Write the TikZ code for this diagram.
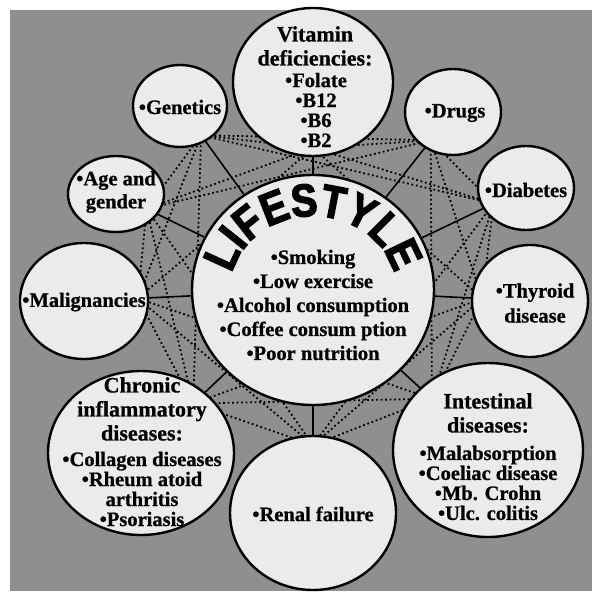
\documentclass[tikz,border=0pt]{standalone}
\usepackage{fontspec}
\setmainfont{Liberation Serif}[BoldFeatures={FakeBold=0.8}]
\newfontfamily\lsfont{Liberation Sans}[FakeBold=3,FakeStretch=0.86]
\usetikzlibrary{shapes.geometric,decorations.text,calc}
\pgfdeclarelayer{bg}
\pgfdeclarelayer{lines}
\pgfsetlayers{bg,lines,main}
\definecolor{bggray}{gray}{0.56}
\definecolor{circfill}{gray}{0.92}
\tikzset{
  circ/.style={ellipse, draw=black, line width=2.4pt, fill=circfill, inner sep=0pt},
  lbl/.style={font=\bfseries\fontsize{20.5}{20}\selectfont, align=center, inner sep=0pt},
  lblw/.style={font=\bfseries\fontsize{20.5}{24}\selectfont, align=center, inner sep=0pt},
  hd/.style={font=\bfseries\fontsize{22}{24}\selectfont, align=center, inner sep=0pt},
  solidlink/.style={line width=1.6pt, draw=black},
  dotlink/.style={line width=1.8pt, draw=black, dash pattern=on 1.8pt off 2.7pt},
}
\begin{document}
\begin{tikzpicture}[x=1pt,y=-1pt]
\useasboundingbox (0,0) rectangle (596,593);
\begin{pgfonlayer}{bg}
  \fill[bggray] (10,10) rectangle (592,591);
\end{pgfonlayer}

% circles
\node[circ, minimum width=242pt, minimum height=230pt] (L) at (313,290) {};
\node[circ, minimum width=160pt, minimum height=148pt] (V) at (313,82) {};
\node[circ, minimum width=94pt, minimum height=82pt] (G) at (180,106) {};
\node[circ, minimum width=96pt, minimum height=76pt] (A) at (116,194) {};
\node[circ, minimum width=128pt, minimum height=116pt] (M) at (84,301) {};
\node[circ, minimum width=186pt, minimum height=164pt] (C) at (141,453) {};
\node[circ, minimum width=166pt, minimum height=154pt] (R) at (313,513) {};
\node[circ, minimum width=190pt, minimum height=174pt] (I) at (488,450) {};
\node[circ, minimum width=116pt, minimum height=112pt] (T) at (530,301) {};
\node[circ, minimum width=96pt, minimum height=84pt] (D) at (526,188) {};
\node[circ, minimum width=96pt, minimum height=86pt] (U) at (453,112) {};

% inner points of the satellites (facing the centre)
\foreach \s/\r in {V/66, U/36, D/36, T/48, I/76, R/68, C/72, M/54, A/34, G/36}{
  \coordinate (\s-in) at ($(\s)!\r pt!(L)$);
}

% connectors
\begin{pgfonlayer}{lines}
  \foreach \a/\b in {V/U, U/D, D/T, T/I, I/R, R/C, C/M, M/A, A/G, G/V,
                     V/D, U/T, D/I, T/R, I/C, R/M, C/A, M/G, A/V, G/U,
                     V/T, U/I, D/R, T/C, I/M, R/A, C/G, M/V, A/U, G/D}{
    \draw[dotlink] (\a-in) -- (\b-in);
  }
  \foreach \s in {V,G,A,M,C,R,I,T,D,U}{
    \draw[solidlink] (L) -- (\s);
  }
\end{pgfonlayer}

% LIFESTYLE arc text
\path[decorate, decoration={text along path, text align=center,
  text={|\lsfont\bfseries\fontsize{46}{46}\selectfont|LIFESTYLE}}]
  (313,290) ++(189:83 and 74) arc[start angle=189, end angle=351, x radius=83, y radius=74];

% texts
\node[lblw] (Lt) at (313,305) {•Smoking\\•Low exercise\\•Alcohol consumption\\•Coffee consum ption\\•Poor nutrition};
\node[hd] (Vh) at (315,46) {Vitamin\\deficiencies:};
\node[lbl] (Vb) at (316,110) {•Folate\\•B12\\•B6\\•B2};
\node[lbl] (Gt) at (180,107) {•Genetics};
\node[lblw,font=\bfseries\fontsize{20.5}{23}\selectfont] (At) at (116,192) {•Age and\\gender};
\node[lbl] (Mt) at (84,302) {•Malignancies};
\node[hd] (Ch) at (142,409) {Chronic\\inflammatory\\diseases:};
\node[lbl] (Cb) at (142,489) {•Collagen diseases\\•Rheum atoid\\arthritis\\•Psoriasis};
\node[lbl] (Rt) at (313,514) {•Renal failure};
\node[hd] (Ih) at (488,413) {Intestinal\\diseases:};
\node[lbl] (Ib) at (488,483) {•Malabsorption\\•Coeliac disease\\•Mb. Crohn\\•Ulc. colitis};
\node[lblw,font=\bfseries\fontsize{20.5}{25}\selectfont] (Tt) at (535,303) {•Thyroid\\disease};
\node[lbl] (Dt) at (526,190) {•Diabetes};
\node[lbl] (Ut) at (455,113) {•Drugs};
\end{tikzpicture}
\end{document}
